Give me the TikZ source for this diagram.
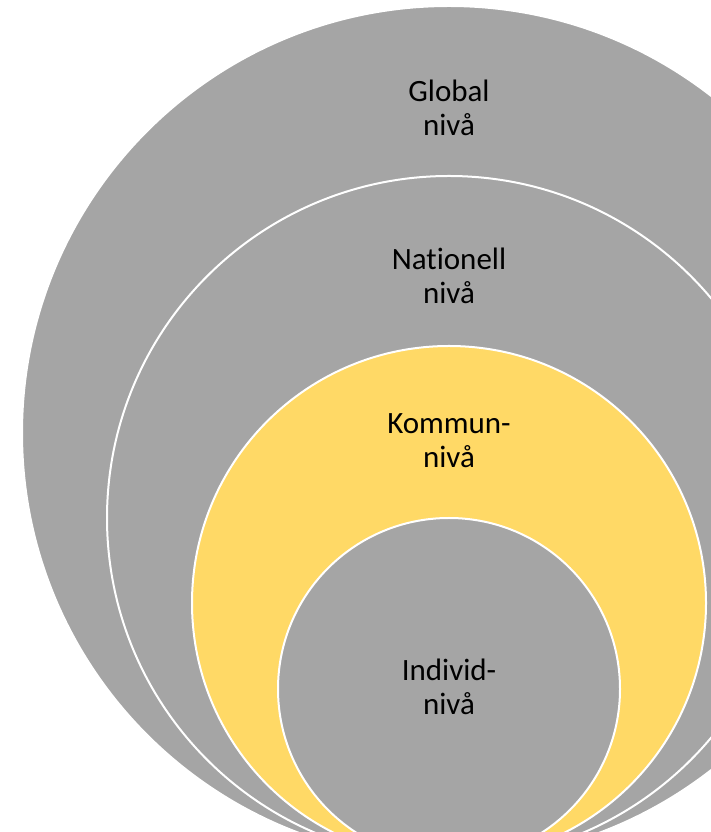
\documentclass[tikz,border=0pt]{standalone}
\usepackage{fontspec}
\setmainfont[Ligatures=NoCommon]{Carlito}
\usepackage{xcolor}
\definecolor{ringgray}{HTML}{A5A5A5}
\definecolor{ringgold}{HTML}{FFD966}

\begin{document}
\begin{tikzpicture}[x=1pt,y=1pt,
    ring/.style={fill=ringgray,draw=white,line width=2pt},
    lbl/.style={align=center,anchor=base,inner sep=0pt,font=\fontsize{31}{34}\selectfont}]
        \useasboundingbox (0,0) rectangle (711,832);
        \clip (0,0) rectangle (711,832);
        % nested levels, all touching at the bottom
        \draw[ring] (449,399) circle[radius=427];
        \draw[ring] (449,314) circle[radius=342];
        \draw[ring,fill=ringgold] (449,229) circle[radius=257];
        \draw[ring] (449,143) circle[radius=171];

        \node[lbl] (global) at (449,696) {Global\\niv\r{a}};
        \node[lbl] (nationell) at (449,528) {Nationell\\niv\r{a}};
        \node[lbl] (kommun) at (449,364) {Kommun-\\niv\r{a}};
        \node[lbl] (individ) at (449,117) {Individ-\\niv\r{a}};
    \end{tikzpicture}
\end{document}
